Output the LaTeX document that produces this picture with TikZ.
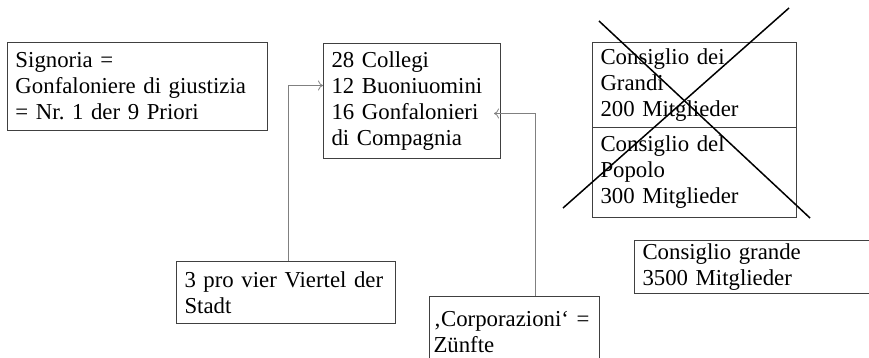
\documentclass[tikz,border=0pt]{standalone}
\usepackage{fontspec}
\setmainfont{Liberation Serif}
\usepackage{tikz}
\usetikzlibrary{arrows.meta}
\frenchspacing

\definecolor{boxgray}{RGB}{64,64,64}
\definecolor{linegray}{RGB}{128,128,128}

\begin{document}
\begin{tikzpicture}[x=1pt, y=-1pt,
            box/.style={shape=rectangle, draw=boxgray, line width=1pt, anchor=north west, align=left,
                inner xsep=8pt, inner ysep=0pt, font=\fontsize{22.8}{26}\selectfont},
            arr/.style={draw=linegray, line width=0.8pt, -{To[length=5pt,width=10pt]}}]
        \useasboundingbox (0,0) rectangle (869,357);
        \clip (0,0) rectangle (869,357);

        \node[box, minimum width=260pt, text width=244pt, minimum height=88pt] (sig) at (7,42)
            {Signoria =\\Gonfaloniere di giustizia\\= Nr. 1 der 9 Priori};
        \node[box, minimum width=177pt, text width=161pt, minimum height=115pt] (col) at (323,43)
            {28 Collegi\\12 Buoniuomini\\16 Gonfalonieri\\di Compagnia};
        \node[box, minimum width=204pt, text width=188pt, minimum height=85pt] (gra) at (592,42)
            {Consiglio dei\\Grandi\\200 Mitglieder};
        \node[box, minimum width=204pt, text width=188pt, minimum height=90pt] (pop) at (592,127)
            {Consiglio del\\Popolo\\300 Mitglieder};
        \node[box, minimum width=219pt, text width=203pt, minimum height=62pt] (pro) at (176,261)
            {3 pro vier Viertel der\\Stadt};
        \node[box, minimum width=260pt, text width=244pt, minimum height=53pt] (gro) at (634,240)
            {Consiglio grande\\3500 Mitglieder};
        \node[box, inner xsep=4pt, minimum width=170pt, text width=162pt, minimum height=72pt] (cor) at (429,296)
            {‚Corporazioni‘ =\\Zünfte};

        \draw[arr] ([xshift=2.5pt]pro.north) |- ([yshift=15.5pt]col.west);
        \draw[arr] ([xshift=21pt]cor.north) |- ([xshift=-7pt,yshift=-12.5pt]col.east);

        \draw[line width=1.5pt] (599,21) -- (810,218);
        \draw[line width=1.5pt] (563,208) -- (789,8);
    \end{tikzpicture}
\end{document}
